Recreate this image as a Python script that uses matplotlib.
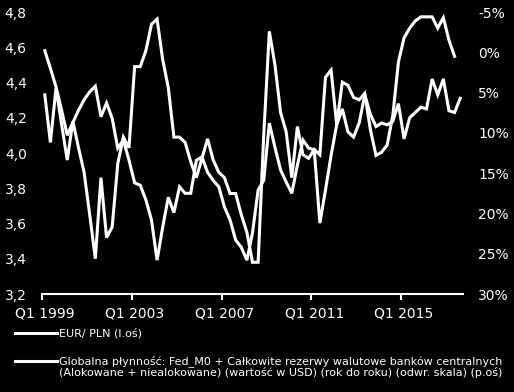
import numpy as np
import matplotlib
matplotlib.use("Agg")
import matplotlib.pyplot as plt
import matplotlib.ticker as mtick
from matplotlib.lines import Line2D

plt.rcParams['font.family'] = ['DejaVu Sans']

# kwartalne dane, Q1 1999 - Q3 2017
eurpln = [4.33, 4.06, 4.37, 4.16, 3.96, 4.18, 4.03, 3.89, 3.65, 3.40,
          3.86, 3.52, 3.58, 3.94, 4.09, 4.03, 4.49, 4.49, 4.58, 4.73,
          4.76, 4.53, 4.37, 4.09, 4.09, 4.06, 3.95, 3.86, 3.97, 4.08,
          3.96, 3.89, 3.86, 3.77, 3.77, 3.65, 3.55, 3.38, 3.38, 4.10,
          4.69, 4.50, 4.23, 4.12, 3.86, 4.15, 3.99, 3.97, 4.02, 3.99,
          4.43, 4.47, 4.16, 4.25, 4.12, 4.09, 4.17, 4.33, 4.22, 4.15,
          4.17, 4.16, 4.18, 4.28, 4.08, 4.20, 4.23, 4.26, 4.25, 4.42,
          4.33, 4.42, 4.24, 4.23, 4.31]

# globalna plynnosc r/r w %, ostatni kwartal brak
liquidity = [-0.2, 2.0, 4.3, 7.2, 10.3, 8.7, 7.2, 5.9, 4.9, 4.2,
             8.0, 6.3, 8.2, 11.9, 10.9, 13.4, 16.2, 16.5, 18.3, 20.8,
             25.8, 21.7, 18.0, 19.9, 16.7, 17.5, 17.5, 13.4, 13.0, 14.9,
             15.9, 16.7, 19.2, 20.8, 23.3, 24.2, 25.8, 22.4, 17.1, 15.9,
             8.8, 11.8, 14.6, 16.1, 17.5, 14.0, 10.9, 11.9, 12.1, 21.2,
             17.1, 12.8, 9.0, 3.7, 4.1, 5.6, 5.9, 5.1, 9.6, 12.8,
             12.4, 11.5, 7.8, 1.2, -1.8, -3.0, -3.9, -4.4, -4.4, -4.4,
             -3.0, -4.3, -1.5, 0.5]

tick_labels = ['Q1 1999', 'Q1 2003', 'Q1 2007', 'Q1 2011', 'Q1 2015']
tick_index = [0, 16, 32, 48, 64]

label1 = 'EUR/ PLN (l.oś)'
label2 = ('Globalna płynność: Fed_M0 + Całkowite rezerwy walutowe banków centralnych\n'
          '(Alokowane + niealokowane) (wartość w USD) (rok do roku) (odwr. skala) (p.oś)')

n = len(eurpln)
x1 = np.arange(n) + 0.5
x2 = np.arange(len(liquidity)) + 0.5

fig = plt.figure(figsize=(5.14, 3.92), dpi=100, facecolor='black')
ax = fig.add_axes([42/514, 98/392, 421/514, 282/392])
ax.set_facecolor('black')
ax2 = ax.twinx()

ax.plot(x1, eurpln, color='white', lw=2.2, solid_joinstyle='miter')
ax2.plot(x2, liquidity, color='white', lw=2.2, solid_joinstyle='miter')

ax.set_xlim(0, n)
ax.set_ylim(3.2, 4.8)
ax.set_yticks(np.arange(3.2, 4.81, 0.2))
ax.yaxis.set_major_formatter(mtick.FuncFormatter(lambda v, p: '{:.1f}'.format(v).replace('.', ',')))
ax2.set_ylim(30, -5)
ax2.set_yticks(np.arange(-5, 31, 5))
ax2.yaxis.set_major_formatter(mtick.FuncFormatter(lambda v, p: '{:.0f}%'.format(v)))

ax.set_xticks(tick_index)
ax.set_xticklabels([])
ax.set_xticks([i + 0.5 for i in tick_index], minor=True)
ax.set_xticklabels(tick_labels, minor=True)
ax.tick_params(axis='x', which='major', colors='white', length=4, width=1.5, direction='out')
ax.tick_params(axis='x', which='minor', length=0, pad=9, labelsize=10, labelcolor='white')

ax.tick_params(axis='y', length=0, pad=11, labelsize=10, labelcolor='white')
ax2.tick_params(axis='y', length=0, pad=11, labelsize=10, labelcolor='white')

for a in (ax, ax2):
    for s in ('top', 'left', 'right'):
        a.spines[s].set_visible(False)
ax.spines['bottom'].set_color('white')
ax.spines['bottom'].set_linewidth(1.5)
ax2.spines['bottom'].set_visible(False)

# legenda pod wykresem
W, H = 514, 392
fig.add_artist(Line2D([15/W, 57/W], [1 - 333/H, 1 - 333/H], color='white', lw=2.2))
fig.text(59/W, 1 - 333/H, label1, color='white', fontsize=8, va='center', ha='left')
fig.add_artist(Line2D([15/W, 57/W], [1 - 361/H, 1 - 361/H], color='white', lw=2.2))
fig.text(59/W, 1 - 355/H, label2, color='white', fontsize=8, va='top', ha='left',
         linespacing=1.0)

fig.savefig('out.png', dpi=100, facecolor='black')
